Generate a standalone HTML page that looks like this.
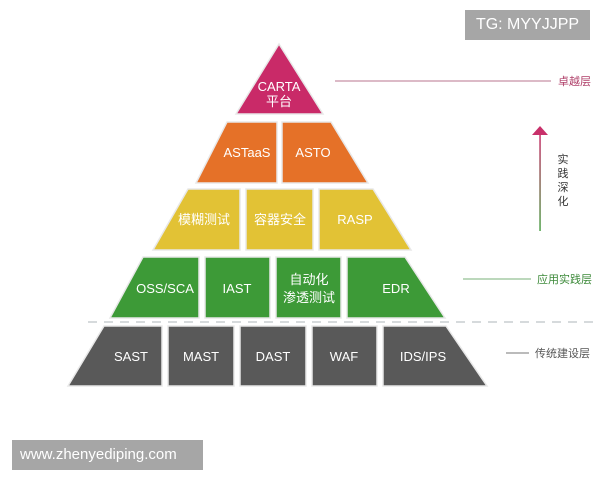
<!DOCTYPE html>
<html><head><meta charset="utf-8"><style>
body{margin:0;background:#fff;width:600px;height:480px;overflow:hidden;position:relative;font-family:"Liberation Sans","Noto Sans CJK SC",sans-serif}
svg{position:absolute;left:0;top:0}
.box{position:absolute;background:#a6a6a6;color:#fff;font-size:16px;line-height:30px}
</style></head><body>
<svg width="600" height="480" viewBox="0 0 600 480" font-family="Liberation Sans, Noto Sans CJK SC, sans-serif">
<defs><linearGradient id="g" x1="0" y1="0" x2="0" y2="1"><stop offset="0" stop-color="#c8306a"/><stop offset="1" stop-color="#4ea34a"/></linearGradient></defs>
<g stroke="#e8e8e8" stroke-width="1.5">
<polygon points="279,44 236,114 323,114" fill="#c92a68"/>
<polygon points="227,122 277,122 277,183 196,183" fill="#e57128"/>
<polygon points="282,122 331,122 368,183 282,183" fill="#e57128"/>
<polygon points="188,189 240,189 240,250 153,250" fill="#e2c235"/>
<polygon points="246,189 313,189 313,250 246,250" fill="#e2c235"/>
<polygon points="319,189 373,189 411,250 319,250" fill="#e2c235"/>
<polygon points="143,257 199,257 199,318 110,318" fill="#3d9a37"/>
<polygon points="205,257 270,257 270,318 205,318" fill="#3d9a37"/>
<polygon points="276,257 341,257 341,318 276,318" fill="#3d9a37"/>
<polygon points="347,257 405,257 445,318 347,318" fill="#3d9a37"/>
<polygon points="104,326 162,326 162,386 68,386" fill="#595959"/>
<polygon points="168,326 234,326 234,386 168,386" fill="#595959"/>
<polygon points="240,326 306,326 306,386 240,386" fill="#595959"/>
<polygon points="312,326 377,326 377,386 312,386" fill="#595959"/>
<polygon points="383,326 446,326 487,386 383,386" fill="#595959"/>
</g>
<line x1="88" y1="322" x2="600" y2="322" stroke="#c9cdd0" stroke-width="1.5" stroke-dasharray="9,7"/>
<g fill="#fff" font-size="13" text-anchor="middle">
<text x="279" y="91">CARTA</text><text x="279" y="106">平台</text>
<text x="247" y="157">ASTaaS</text><text x="313" y="157">ASTO</text>
<text x="204" y="224">模糊测试</text><text x="280" y="224">容器安全</text><text x="355" y="224">RASP</text>
<text x="165" y="293">OSS/SCA</text><text x="237" y="293">IAST</text><text x="309" y="284">自动化</text><text x="309" y="302">渗透测试</text><text x="396" y="293">EDR</text>
<text x="131" y="361">SAST</text><text x="201" y="361">MAST</text><text x="273" y="361">DAST</text><text x="344" y="361">WAF</text><text x="423" y="361">IDS/IPS</text>
</g>
<line x1="335" y1="81" x2="551" y2="81" stroke="#b8768f" stroke-width="1"/>
<text x="558" y="85" font-size="11" fill="#b0406a">卓越层</text>
<line x1="463" y1="279" x2="531" y2="279" stroke="#7ab27a" stroke-width="1"/>
<text x="537" y="283" font-size="11" fill="#3d8a3a">应用实践层</text>
<line x1="506" y1="353" x2="529" y2="353" stroke="#777" stroke-width="1"/>
<text x="535" y="357" font-size="11" fill="#555">传统建设层</text>
<rect x="539.3" y="134" width="1.5" height="97" fill="url(#g)"/>
<polygon points="540,126 532,135 548,135" fill="#c8306a"/>
<g font-size="11" fill="#333" text-anchor="middle"><text x="563" y="163">实</text><text x="563" y="177">践</text><text x="563" y="191">深</text><text x="563" y="205">化</text></g>
</svg>
<div class="box" style="left:465px;top:10px;width:125px;height:30px;text-align:center">TG: MYYJJPP</div>
<div class="box" style="left:12px;top:440px;width:191px;height:30px;padding-left:8px;box-sizing:border-box;font-size:15px">www.zhenyediping.com</div>
</body></html>
